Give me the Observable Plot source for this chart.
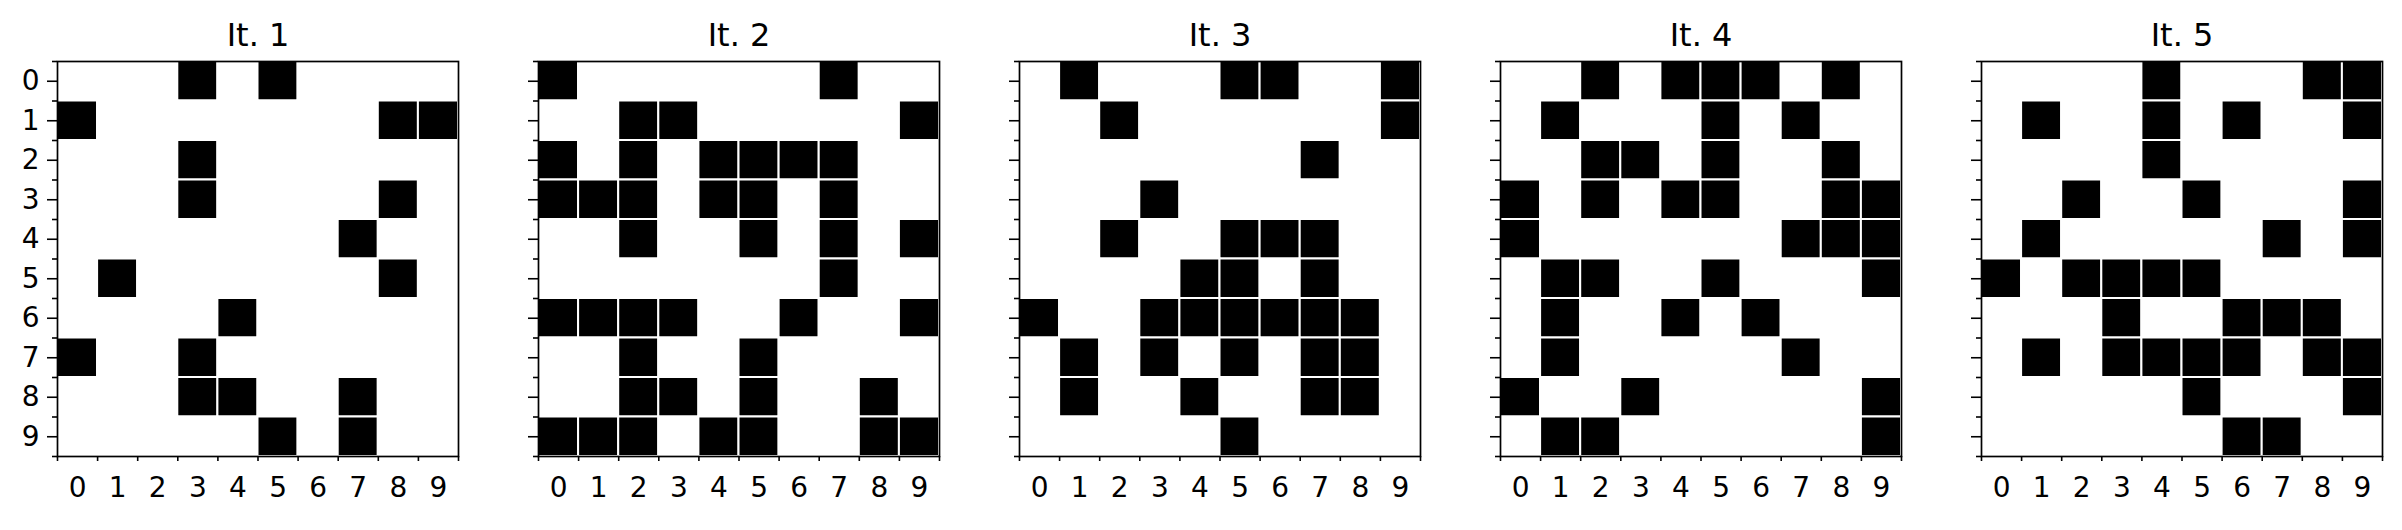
<!DOCTYPE html>
<html>
<head>
<meta charset="utf-8">
<script src="https://cdn.jsdelivr.net/npm/d3@7"></script>
<script src="https://cdn.jsdelivr.net/npm/@observablehq/plot@0.6"></script>
<style>
  html, body { margin: 0; padding: 0; background: white; overflow: hidden; }
  #wrap { position: relative; width: 2402px; height: 530px; overflow: hidden; background: white; }
  #wrap > svg { position: absolute; top: 0; }
</style>
</head>
<body>
<div id="wrap"></div>
<script>
// Panel titles
const titles = ["It. 1", "It. 2", "It. 3", "It. 4", "It. 5"];
// Tick labels (row / column indices)
const tickLabels = [0, 1, 2, 3, 4, 5, 6, 7, 8, 9];

// Grids: one string per row (row 0 at top), "1" = black cell
const it1 = ["0001010000","1000000011","0001000000","0001000010","0000000100",
             "0100000010","0000100000","1001000000","0001100100","0000010100"];
const it2 = ["1000000100","0011000001","1010111100","1110110100","0010010101",
             "0000000100","1111001001","0010010000","0011010010","1110110011"];
const it3 = ["0100011001","0010000001","0000000100","0001000000","0010011100",
             "0000110100","1001111110","0101010110","0100100110","0000010000"];
const it4 = ["0010111010","0100010100","0011010010","1010110011","1000000111",
             "0110010001","0100101000","0100000100","1001000001","0110000001"];
const it5 = ["0000100011","0100101001","0000100000","0010010001","0100000101",
             "1011110000","0001001110","0101111011","0000010001","0000001100"];

const grids = [it1, it2, it3, it4, it5];

const wrap = document.getElementById("wrap");
const bounds = d3.range(-0.5, tickLabels.length, 1);

grids.forEach((grid, i) => {
  const cells = [];
  grid.forEach((row, r) => row.split("").forEach((v, c) => cells.push({r, c, v: +v})));
  const chart = Plot.plot({
    width: 481,
    height: 530,
    marginLeft: 57,
    marginRight: 23,
    marginTop: 61,
    marginBottom: 74,
    x: {domain: [-0.5, 9.5]},
    y: {domain: [-0.5, 9.5], reverse: true},
    style: {fontFamily: "DejaVu Sans", fontSize: "28px", background: "white", color: "black", overflow: "visible"},
    marks: [
      Plot.rect(cells, {
        x1: d => d.c - 0.5, x2: d => d.c + 0.5,
        y1: d => d.r - 0.5, y2: d => d.r + 0.5,
        fill: d => d.v ? "black" : "white",
        stroke: "white", strokeWidth: 2
      }),
      Plot.frame({stroke: "black", strokeWidth: 1.7}),
      // x axis: ticks at cell boundaries, labels at centres
      Plot.axisX({ticks: bounds, tickSize: 5, tickFormat: () => "", strokeWidth: 1.6}),
      Plot.axisX({ticks: tickLabels, tickSize: 0, tickPadding: 21, tickFormat: d => String(d)}),
      // y axis: major ticks at centres, minor at boundaries
      Plot.axisY({ticks: bounds, tickSize: 5, tickFormat: () => "", strokeWidth: 1.6}),
      Plot.axisY({ticks: tickLabels, tickSize: 10, tickPadding: 8, strokeWidth: 1.6,
                  tickFormat: i === 0 ? (d => String(d)) : (() => "")}),
      Plot.text([titles[i]], {frameAnchor: "top", dy: -16, lineAnchor: "bottom", fontSize: 32, fill: "black"})
    ]
  });
  chart.style.left = (481 * i - 0.3) + "px";
  wrap.appendChild(chart);
});
</script>
</body>
</html>
